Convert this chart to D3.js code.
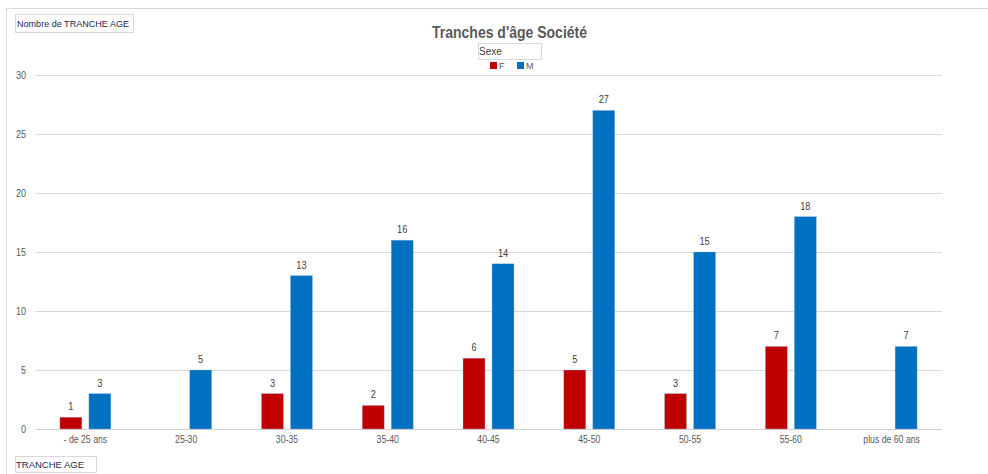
<!DOCTYPE html>
<html><head><meta charset="utf-8">
<script src="https://cdn.jsdelivr.net/npm/d3@7"></script>
<style>
html,body{margin:0;padding:0;background:#fff;}
svg{display:block;}
</style></head>
<body>
<svg id="c" width="988" height="474"></svg>
<script>
const categories = ["- de 25 ans","25-30","30-35","35-40","40-45","45-50","50-55","55-60","plus de 60 ans"];
const seriesNames = ["F","M"];
const valuesF = [1,null,3,2,6,5,3,7,null];
const valuesM = [3,5,13,16,14,27,15,18,7];
const yTicks = [0,5,10,15,20,25,30];
const colors = {F:"#C00000", M:"#0070C0"};
const FONT = "'Liberation Sans Narrow','Arial Narrow','Liberation Sans',sans-serif";

(function(){
const svg = d3.select("#c");
function condense(sel, f){
  sel.each(function(){
    const w = this.getComputedTextLength();
    d3.select(this).attr("textLength", w*f).attr("lengthAdjust","spacingAndGlyphs");
  });
}
svg.append("line").attr("x1",6.5).attr("x2",6.5).attr("y1",8).attr("y2",474).attr("stroke","#d9d9d9").attr("stroke-width",1);
svg.append("line").attr("x1",6).attr("x2",988).attr("y1",8.5).attr("y2",8.5).attr("stroke","#d9d9d9").attr("stroke-width",1);

const pLeft=35, pRight=942, pTop=75, pBottom=429;
const x0 = d3.scaleBand().domain(categories).range([pLeft,pRight]).paddingInner(0).paddingOuter(0);
const y = d3.scaleLinear().domain([0,30]).range([pBottom,pTop]);
const bw = 22, gap = 7;
const x1 = d3.scaleOrdinal().domain(seriesNames).range([-(bw+gap)/2 - bw/2, (bw+gap)/2 - bw/2]);

const gAxisY = svg.append("g").attr("transform",`translate(${pLeft},0)`)
  .call(d3.axisLeft(y).tickValues(yTicks).tickSize(-(pRight-pLeft)).tickPadding(9));
gAxisY.select(".domain").remove();
gAxisY.selectAll(".tick line").attr("stroke", d=> d===0 ? "#d0d0d0" : "#d9d9d9").attr("stroke-width",1);
gAxisY.selectAll(".tick text").attr("fill","#595959").style("font-family",FONT).style("font-size","10px");
condense(gAxisY.selectAll(".tick text"), 0.9);

const gAxisX = svg.append("g").attr("transform",`translate(0,${pBottom})`)
  .call(d3.axisBottom(x0).tickSize(0).tickPadding(7));
gAxisX.select(".domain").remove();
gAxisX.selectAll(".tick text").attr("fill","#595959").style("font-family",FONT).style("font-size","10px");
condense(gAxisX.selectAll(".tick text"), 0.87);

const data = [];
categories.forEach((c,i)=>{
  [["F",valuesF[i]],["M",valuesM[i]]].forEach(([s,v])=>{ if(v!=null) data.push({c,s,v}); });
});

const bars = svg.append("g");
bars.selectAll("rect").data(data).enter().append("rect")
  .attr("x", d=> x0(d.c) + x0.bandwidth()/2 + x1(d.s))
  .attr("width", bw)
  .attr("y", d=> y(d.v))
  .attr("height", d=> y(0)-y(d.v))
  .attr("fill", d=> colors[d.s])
  .attr("stroke","#9dc3e6").attr("stroke-width",0.6).attr("stroke-opacity",0.6);

const vl = bars.selectAll("text").data(data).enter().append("text")
  .attr("x", d=> x0(d.c) + x0.bandwidth()/2 + x1(d.s) + bw/2)
  .attr("y", d=> y(d.v) - 7)
  .attr("text-anchor","middle")
  .attr("fill","#404040").style("font-family",FONT).style("font-size","10px")
  .text(d=> d.v);
condense(vl, 0.92);

svg.append("text").attr("x",509.5).attr("y",38).attr("text-anchor","middle")
  .attr("fill","#595959").style("font-family",FONT).style("font-size","17px").style("font-weight","bold")
  .attr("textLength",155).attr("lengthAdjust","spacingAndGlyphs")
  .text("Tranches d'âge Société");

svg.append("rect").attr("x",478.5).attr("y",43.5).attr("width",63).attr("height",16).attr("fill","#fff").attr("stroke","#d9d9d9");
svg.append("text").attr("x",479).attr("y",55).attr("fill","#404040").style("font-family",FONT).style("font-size","10px").text("Sexe");
const leg = svg.append("g");
const legX = {F:490, M:517};
seriesNames.forEach(s=>{
  leg.append("rect").attr("x",legX[s]).attr("y",62).attr("width",7).attr("height",7).attr("fill",colors[s]);
  leg.append("text").attr("x",legX[s]+9).attr("y",69).attr("fill","#595959").style("font-family",FONT).style("font-size","9px").text(s);
});

svg.append("rect").attr("x",15.5).attr("y",14.5).attr("width",118).attr("height",18).attr("fill","#fff").attr("stroke","#d9d9d9");
svg.append("text").attr("x",17).attr("y",27).attr("fill","#1f1f4f").style("font-family",FONT).style("font-size","9.5px")
  .attr("textLength",112).attr("lengthAdjust","spacingAndGlyphs").text("Nombre de TRANCHE AGE");
svg.append("rect").attr("x",15.5).attr("y",456.5).attr("width",81).attr("height",16).attr("fill","#fff").attr("stroke","#d9d9d9");
svg.append("text").attr("x",16).attr("y",468).attr("fill","#1f1f4f").style("font-family",FONT).style("font-size","9.5px").text("TRANCHE AGE");
})();
</script>
</body></html>
